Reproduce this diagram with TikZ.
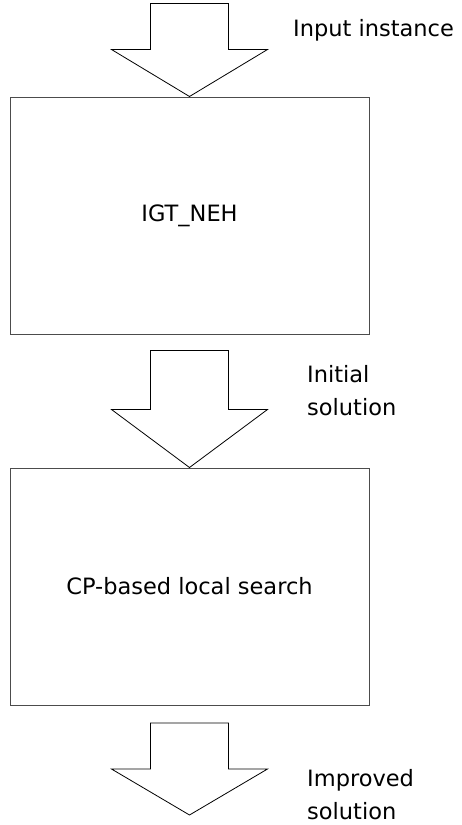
\documentclass[tikz,border=0pt]{standalone}
\usepackage{fontspec}
\setmainfont{DejaVu Sans}
\usetikzlibrary{positioning,calc}

\begin{document}
\begin{tikzpicture}[
    x=1pt, y=-1pt,
    node distance=133pt,
    stage/.style={draw=black!70, line width=1pt, minimum width=359pt, minimum height=237pt, inner sep=0pt, font=\fontsize{22.5}{33}\selectfont},
    fatarrow/.style={draw, line width=0.8pt, line join=miter},
    note/.style={anchor=north west, inner sep=0pt, align=left, font=\fontsize{22.5}{33}\selectfont}
]
\useasboundingbox (0,0) rectangle (462,825);

\node[stage] (igt) at (189.5,215.5) {IGT\_NEH};
\node[stage, below=of igt] (cpls) {CP-based local search};
\coordinate (out) at (189.5,815);

% block arrows drawn up from their tips
\draw[fatarrow] (igt.north) -- ++(-78,-47) -- ++(39,0) -- ++(0,-46) -- ++(78,0) -- ++(0,46) -- ++(39,0) -- cycle;
\draw[fatarrow] (cpls.north) -- ++(-78,-58) -- ++(39,0) -- ++(0,-59) -- ++(78,0) -- ++(0,59) -- ++(39,0) -- cycle;
\draw[fatarrow] (out) -- ++(-78,-46) -- ++(39,0) -- ++(0,-46) -- ++(78,0) -- ++(0,46) -- ++(39,0) -- cycle;

\node[note] (input) at (293,19) {Input instance};
\node[note] (init) at (307,365) {Initial\\solution};
\node[note] (impr) at (307,769) {Improved\\solution};

\end{tikzpicture}
\end{document}
